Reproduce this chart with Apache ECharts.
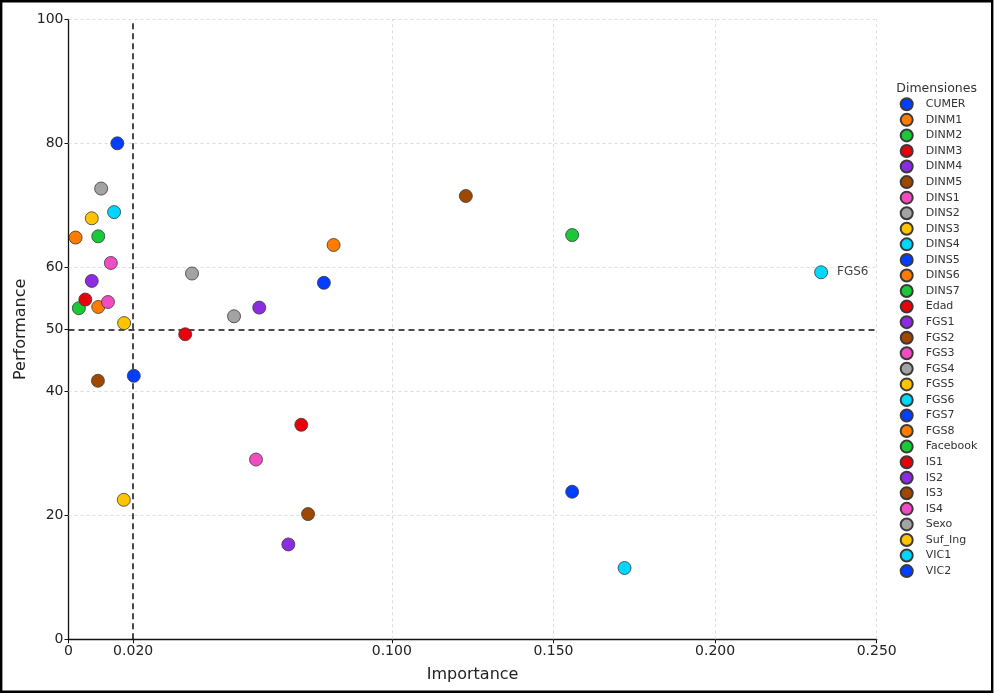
<!DOCTYPE html>
<html>
<head>
<meta charset="utf-8">
<script src="https://cdn.jsdelivr.net/npm/echarts@6/dist/echarts.min.js"></script>
<style>
html,body{margin:0;padding:0;background:#fff;}
#chart{width:995px;height:695px;}
</style>
</head>
<body>
<div id="chart"></div>
<script>
const categories = ['CUMER','DINM1','DINM2','DINM3','DINM4','DINM5','DINS1','DINS2','DINS3','DINS4',
  'DINS5','DINS6','DINS7','Edad','FGS1','FGS2','FGS3','FGS4','FGS5','FGS6',
  'FGS7','FGS8','Facebook','IS1','IS2','IS3','IS4','Sexo','Suf_Ing','VIC1','VIC2'];
const importance = [0.0151,0.0022,0.0032,0.0052,0.0072,0.0091,0.0131,0.0101,0.0072,0.0141,
  0.0202,0.0092,0.0092,0.0361,0.0590,0.1229,0.0122,0.0382,0.0172,0.2328,
  0.0790,0.0820,0.1558,0.0720,0.0680,0.0741,0.0580,0.0512,0.0171,0.1720,0.1558];
const performance = [80.0,64.8,53.4,54.8,57.8,41.7,60.7,72.7,67.9,68.9,
  42.5,53.6,65.0,49.2,53.5,71.5,54.4,59.0,51.0,59.2,
  57.5,63.6,65.2,34.6,15.3,20.2,29.0,52.1,22.5,11.5,23.8];
const xTicks = [0,0.02,0.1,0.15,0.2,0.25];
const yTicks = [0,20,40,50,60,80,100];
const xGrid = [0.1,0.15,0.2,0.25];
const yGrid = [20,40,60,80,100];
const xThreshold = 0.02;
const yThreshold = 50;
const labelledPoint = 'FGS6';

const palette = ['#023eff','#ff7c00','#1ac938','#e8000b','#8b2be2','#9f4800','#f14cc1','#a3a3a3','#ffc400','#00d7ff'];
const FONT = 'DejaVu Sans';

const chart = echarts.init(document.getElementById('chart'), null, {renderer:'canvas'});

const pointSeries = categories.map((name, i) => ({
  type: 'scatter',
  name: name,
  data: [[importance[i], performance[i]]],
  symbol: 'circle',
  symbolSize: 13,
  z: 5,
  itemStyle: {color: palette[i % palette.length], borderColor: '#3a3a3a', borderWidth: 0.8, opacity: 1},
  emphasis: {disabled: true},
  label: name === labelledPoint ? {
    show: true, position: 'right', distance: 9, formatter: '{a}',
    fontFamily: FONT, fontSize: 12, color: '#444'
  } : {show: false}
}));

const gridSeries = {
  type: 'scatter', name: '_grid', data: [], z: 1, silent: true,
  markLine: {
    silent: true, symbol: 'none', animation: false,
    label: {show: false},
    lineStyle: {color: '#d4d4d4', type: [3, 3], width: 0.8},
    data: xGrid.map(v => ({xAxis: v})).concat(yGrid.map(v => ({yAxis: v})))
  }
};
const thresholdSeries = {
  type: 'scatter', name: '_thr', data: [], z: 2, silent: true,
  markLine: {
    silent: true, symbol: 'none', animation: false,
    label: {show: false},
    lineStyle: {color: '#111', type: [6, 4], width: 1.5},
    data: [{xAxis: xThreshold}, {yAxis: yThreshold}]
  }
};

const option = {
  animation: false,
  textStyle: {fontFamily: FONT},
  grid: {left: 68.5, right: 118.3, top: 19.3, bottom: 55.7, containLabel: false},
  xAxis: {
    type: 'value', min: 0, max: 0.25,
    name: 'Importance', nameLocation: 'middle', nameGap: 28,
    nameTextStyle: {fontFamily: FONT, fontSize: 16, color: '#222'},
    axisLine: {show: true, onZero: false, lineStyle: {color: '#111', width: 1.3}},
    axisTick: {show: true, customValues: xTicks, length: 4, lineStyle: {color: '#111', width: 1}},
    axisLabel: {customValues: xTicks, fontFamily: FONT, fontSize: 14, color: '#222', margin: 5,
      formatter: v => v === 0 ? '0' : v.toFixed(3)},
    splitLine: {show: false}
  },
  yAxis: {
    type: 'value', min: 0, max: 100,
    name: 'Performance', nameLocation: 'middle', nameGap: 40, nameMoveOverlap: false,
    nameTextStyle: {fontFamily: FONT, fontSize: 16, color: '#222'},
    axisLine: {show: true, onZero: false, lineStyle: {color: '#111', width: 1.3}},
    axisTick: {show: true, customValues: yTicks, length: 4, lineStyle: {color: '#111', width: 1}},
    axisLabel: {customValues: yTicks, fontFamily: FONT, fontSize: 14, color: '#222', margin: 5,
      formatter: v => String(Math.round(v))},
    splitLine: {show: false}
  },
  legend: {
    data: categories,
    orient: 'vertical',
    left: 899.7, top: 97.3,
    itemWidth: 12, itemHeight: 12, itemGap: 1.56,
    icon: 'circle',
    selectedMode: false,
    padding: 0,
    textStyle: {fontFamily: FONT, fontSize: 11, color: '#333', lineHeight: 12, padding: [0, 0, 0, 8]}
  },
  graphic: [
    {type: 'text', left: 936.3 - 40, top: 82.5, style: {text: 'Dimensiones', font: '12.5px "DejaVu Sans"', fill: '#333', width: 80, align: 'center'}, z: 10},
    {type: 'rect', shape: {x: 1.2, y: 1.2, width: 991, height: 690.6}, style: {fill: 'none', stroke: '#000', lineWidth: 2.4}, z: 20, silent: true}
  ],
  series: [gridSeries, thresholdSeries].concat(pointSeries)
};
chart.setOption(option);
</script>
</body>
</html>
